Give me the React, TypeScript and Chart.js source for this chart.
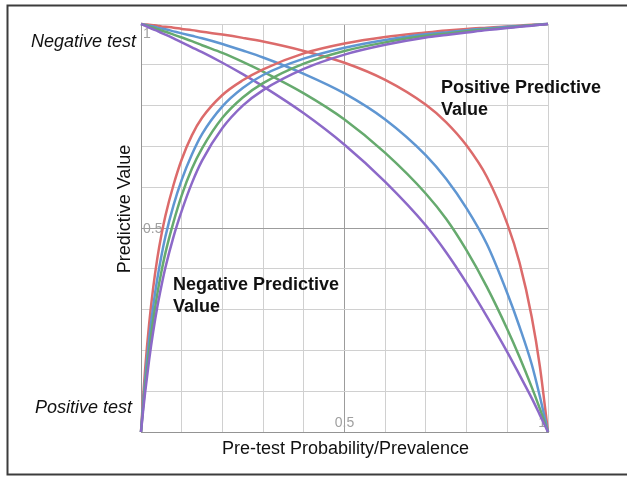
import React, { useEffect, useRef } from 'react';
import { Chart, registerables } from 'chart.js';

Chart.register(...registerables);

// Pre-test probability (x) sample points
const prevalence = [0, 0.005, 0.01, 0.02, 0.03, 0.04, 0.05, 0.06, 0.08, 0.1, 0.125, 0.15, 0.2, 0.25, 0.3, 0.4, 0.5, 0.6, 0.7, 0.75, 0.8, 0.85, 0.9, 0.93, 0.96, 0.98, 1];

// Rising curves (lower-left family)
const risingRed = [0, 0.082, 0.152, 0.265, 0.354, 0.425, 0.482, 0.53, 0.606, 0.668, 0.727, 0.77, 0.826, 0.862, 0.889, 0.928, 0.952, 0.968, 0.979, 0.984, 0.988, 0.991, 0.994, 0.996, 0.998, 0.999, 1];
const risingBlue = [0, 0.067, 0.127, 0.227, 0.308, 0.375, 0.431, 0.479, 0.556, 0.618, 0.68, 0.73, 0.798, 0.843, 0.875, 0.915, 0.942, 0.961, 0.975, 0.979, 0.985, 0.989, 0.993, 0.995, 0.997, 0.999, 1];
const risingGreen = [0, 0.058, 0.11, 0.2, 0.275, 0.338, 0.392, 0.439, 0.515, 0.58, 0.645, 0.695, 0.77, 0.82, 0.855, 0.903, 0.934, 0.955, 0.971, 0.976, 0.982, 0.987, 0.991, 0.994, 0.997, 0.998, 1];
const risingPurple = [0, 0.05, 0.096, 0.177, 0.246, 0.306, 0.357, 0.403, 0.479, 0.542, 0.61, 0.665, 0.745, 0.8, 0.838, 0.89, 0.925, 0.949, 0.967, 0.973, 0.979, 0.985, 0.99, 0.993, 0.996, 0.998, 1];

// Falling curves (upper-right family)
const fallingRed = [1, 0.9995, 0.999, 0.998, 0.997, 0.996, 0.994, 0.993, 0.991, 0.988, 0.985, 0.981, 0.974, 0.966, 0.957, 0.934, 0.905, 0.863, 0.802, 0.759, 0.702, 0.625, 0.51, 0.415, 0.282, 0.161, 0];
const fallingBlue = [1, 0.999, 0.998, 0.996, 0.994, 0.991, 0.989, 0.987, 0.982, 0.977, 0.971, 0.965, 0.951, 0.935, 0.918, 0.878, 0.83, 0.766, 0.678, 0.62, 0.548, 0.46, 0.34, 0.258, 0.166, 0.087, 0];
const fallingGreen = [1, 0.998, 0.997, 0.994, 0.991, 0.987, 0.984, 0.981, 0.974, 0.967, 0.958, 0.948, 0.929, 0.907, 0.883, 0.83, 0.766, 0.684, 0.584, 0.522, 0.445, 0.355, 0.252, 0.184, 0.11, 0.057, 0];
const fallingPurple = [1, 0.998, 0.996, 0.991, 0.987, 0.983, 0.978, 0.974, 0.965, 0.955, 0.943, 0.931, 0.905, 0.877, 0.847, 0.781, 0.704, 0.613, 0.506, 0.44, 0.365, 0.283, 0.196, 0.14, 0.083, 0.042, 0];

const seriesColors = ['#dc6b6b', '#5f96d2', '#66aa6e', '#8c69c8'];

const axisTickValues = [0.5, 1];
const axisTickLabels = ['0.5', '1'];

const yAxisTitle = 'Predictive Value';
const xAxisTitle = 'Pre-test Probability/Prevalence';
const topSideLabel = 'Negative test';
const bottomSideLabel = 'Positive test';
const ppvLabel = ['Positive Predictive', 'Value'];
const npvLabel = ['Negative Predictive', 'Value'];

const FONT = '"Liberation Sans", Arial, sans-serif';

const gridColor = (ctx: any) => {
  const v = ctx.tick ? ctx.tick.value : undefined;
  if (v === undefined) return '#d0d0d0';
  if (Math.abs(v - 0.5) < 1e-6) return '#9c9c9c';
  if (Math.abs(v) < 1e-6) return '#949494';
  return '#d0d0d0';
};

const textPlugin = {
  id: 'texts',
  beforeDatasetsDraw(chart: any) {
    const ctx = chart.ctx;
    const xs = chart.scales.x;
    const ys = chart.scales.y;
    ctx.save();
    ctx.font = `14px ${FONT}`;
    ctx.fillStyle = '#a0a0a0';
    ctx.textBaseline = 'alphabetic';
    axisTickValues.forEach((v, i) => {
      const label = axisTickLabels[i];
      ctx.textAlign = 'left';
      const yp = ys.getPixelForValue(v);
      const yOff = v >= 1 ? 13.5 : 5;
      ctx.fillText(label, xs.getPixelForValue(0) + 2, yp + yOff);
      const xp = xs.getPixelForValue(v);
      ctx.textAlign = v >= 1 ? 'right' : 'center';
      ctx.fillText(label, v >= 1 ? xp - 2 : xp, ys.getPixelForValue(0) - 5);
    });
    ctx.restore();
  },
  afterDraw(chart: any) {
    const ctx = chart.ctx;
    const xs = chart.scales.x;
    const ys = chart.scales.y;
    ctx.save();
    ctx.strokeStyle = '#3c3c3c';
    ctx.lineWidth = 2;
    ctx.strokeRect(7.5, 5.5, 700, 469);

    ctx.fillStyle = '#111';
    ctx.font = `18px ${FONT}`;
    ctx.textAlign = 'center';
    ctx.textBaseline = 'alphabetic';
    ctx.fillText(xAxisTitle, (xs.left + xs.right) / 2 + 1, 454);
    ctx.save();
    ctx.translate(130, (ys.top + ys.bottom) / 2 - 19);
    ctx.rotate(-Math.PI / 2);
    ctx.fillText(yAxisTitle, 0, 0);
    ctx.restore();

    ctx.font = `italic 18px ${FONT}`;
    ctx.textAlign = 'right';
    ctx.fillText(topSideLabel, 136, 47);
    ctx.fillText(bottomSideLabel, 132, 413);

    ctx.font = `bold 18px ${FONT}`;
    ctx.textAlign = 'left';
    ppvLabel.forEach((t, i) => ctx.fillText(t, 441, 93 + i * 22));
    npvLabel.forEach((t, i) => ctx.fillText(t, 173, 289.5 + i * 22.5));
    ctx.restore();
  },
};

export default function App() {
  const ref = useRef<HTMLCanvasElement>(null);
  useEffect(() => {
    const canvas = ref.current;
    if (!canvas) return;
    const mk = (vals: number[], color: string) => ({
      data: prevalence.map((p, i) => ({ x: p, y: vals[i] })),
      borderColor: color,
      backgroundColor: color,
      borderWidth: 2.5,
      pointRadius: 0,
      fill: false,
      cubicInterpolationMode: 'monotone' as const,
      clip: 4,
    });
    const chart = new Chart(canvas, {
      type: 'line',
      data: {
        datasets: [
          mk(risingPurple, seriesColors[3]),
          mk(risingGreen, seriesColors[2]),
          mk(risingBlue, seriesColors[1]),
          mk(risingRed, seriesColors[0]),
          mk(fallingPurple, seriesColors[3]),
          mk(fallingGreen, seriesColors[2]),
          mk(fallingBlue, seriesColors[1]),
          mk(fallingRed, seriesColors[0]),
        ],
      },
      options: {
        responsive: false,
        animation: false,
        devicePixelRatio: 1,
        events: [],
        layout: { padding: { left: 141, top: 24, right: 79, bottom: 45 } },
        plugins: {
          legend: { display: false },
          tooltip: { enabled: false },
          title: { display: false },
        },
        scales: {
          x: {
            type: 'linear',
            min: 0,
            max: 1,
            ticks: { display: false, stepSize: 0.1 },
            grid: { color: gridColor, drawTicks: false, lineWidth: 1 },
            border: { display: true, color: '#949494', width: 1 },
            afterFit: (s: any) => { s.height = 0; },
          },
          y: {
            type: 'linear',
            min: 0,
            max: 1,
            ticks: { display: false, stepSize: 0.1 },
            grid: { color: gridColor, drawTicks: false, lineWidth: 1 },
            border: { display: true, color: '#949494', width: 1 },
            afterFit: (s: any) => { s.width = 0; },
          },
        },
      } as any,
      plugins: [textPlugin],
    });
    return () => chart.destroy();
  }, []);
  return (
    <div style={{ position: 'absolute', left: 0, top: 0, width: 627, height: 477, background: '#fff' }}>
      <canvas ref={ref} width={627} height={477} style={{ display: 'block' }} />
    </div>
  );
}
